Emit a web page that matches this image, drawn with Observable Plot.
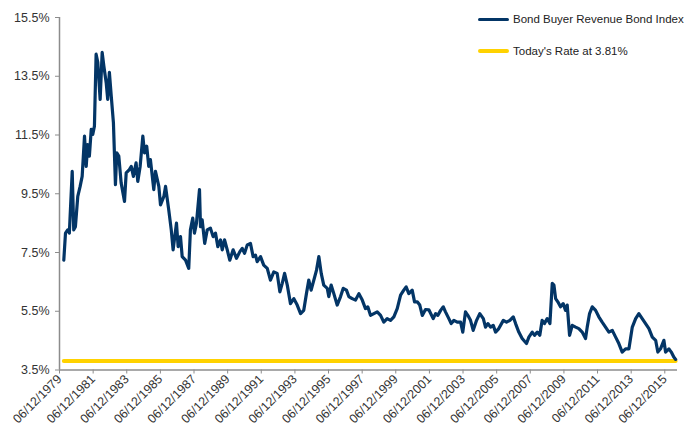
<!DOCTYPE html>
<html>
<head>
<meta charset="utf-8">
<script src="https://cdn.jsdelivr.net/npm/d3@7"></script>
<script src="https://cdn.jsdelivr.net/npm/@observablehq/plot@0.6"></script>
<style>
  html, body { margin: 0; padding: 0; background: #fff; }
  #wrap { position: relative; width: 687px; height: 427px; font-family: "Liberation Sans", Arial, sans-serif; }
  .legend { position: absolute; left: 478px; font-size: 11.5px; color: #222; display: flex; align-items: center; white-space: nowrap; }
  .legend .sw { width: 31px; margin-right: 4px; border-radius: 2px; }
</style>
</head>
<body>
<div id="wrap"></div>
<script>
// Decimal years
const years = [
  1979.70,1979.80,1979.93,1980.03,1980.20,1980.29,1980.39,1980.53,1980.67,1980.79,1980.93,
  1981.03,1981.12,1981.22,1981.33,1981.42,1981.52,1981.62,1981.72,1981.86,1981.98,
  1982.08,1982.22,1982.31,1982.41,1982.52,1982.65,1982.77,1982.85,1982.97,
  1983.11,1983.31,1983.41,1983.60,1983.71,1983.84,
  1984.00,1984.10,1984.24,1984.40,1984.50,1984.63,1984.75,1984.85,
  1985.05,1985.15,1985.35,1985.45,1985.65,1985.75,1985.94,
  1986.09,1986.20,1986.30,1986.40,1986.50,1986.64,1986.74,1986.94,
  1987.13,1987.23,1987.37,1987.47,1987.59,1987.77,1987.83,1987.93,
  1988.08,1988.23,1988.42,1988.58,1988.72,1988.86,
  1989.02,1989.12,1989.26,1989.42,1989.57,1989.77,1989.97,
  1990.17,1990.31,1990.45,1990.61,1990.80,1990.96,
  1991.10,1991.20,1991.40,1991.59,1991.80,1991.99,
  1992.19,1992.39,1992.55,1992.69,1992.83,1992.99,
  1993.18,1993.38,1993.58,1993.78,1993.97,
  1994.13,1994.27,1994.41,1994.57,1994.73,1994.87,
  1995.01,1995.16,1995.37,1995.46,1995.60,1995.76,1995.96,
  1996.16,1996.32,1996.51,1996.65,1996.85,
  1997.05,1997.25,1997.45,1997.64,1997.78,1997.94,
  1998.14,1998.34,1998.54,1998.73,1998.93,
  1999.13,1999.33,1999.53,1999.73,1999.92,
  2000.06,2000.22,2000.42,2000.56,2000.72,2000.87,
  2001.02,2001.21,2001.41,2001.67,2001.81,2001.95,
  2002.11,2002.27,2002.40,2002.60,2002.74,2002.90,
  2003.10,2003.30,2003.43,2003.59,2003.73,2003.89,
  2004.05,2004.25,2004.44,2004.65,2004.78,2004.92,
  2005.08,2005.24,2005.38,2005.57,2005.84,
  2006.03,2006.23,2006.43,2006.57,2006.76,2006.96,
  2007.22,2007.36,2007.56,2007.70,2007.86,
  2008.01,2008.15,2008.29,2008.45,2008.61,2008.75,2008.85,2008.95,
  2009.08,2009.24,2009.40,2009.54,2009.64,2009.78,2009.94,
  2010.14,2010.33,2010.53,2010.73,2010.83,2010.97,
  2011.13,2011.33,2011.52,2011.72,2011.92,
  2012.12,2012.32,2012.52,2012.71,2012.91,
  2013.11,2013.31,2013.51,2013.71,2013.90,
  2014.10,2014.30,2014.50,2014.70,2014.90,
  2015.03,2015.19,2015.39,2015.49,2015.69,2015.83,2015.98,2016.09
];
// Bond Buyer Revenue Bond Index (%)
const rates = [
  7.24,8.16,8.27,8.16,10.26,8.27,8.38,9.41,9.75,10.09,11.46,
  10.43,11.17,10.78,11.69,11.52,11.80,14.25,13.97,12.71,14.31,
  13.85,13.28,12.71,13.63,12.83,11.92,9.81,10.89,10.78,
  9.87,9.24,10.21,10.32,10.43,10.09,
  10.55,9.92,10.43,11.46,10.89,11.12,10.43,10.66,
  9.64,10.26,9.75,9.12,9.41,9.75,8.95,
  8.27,7.59,8.04,8.50,7.70,8.04,7.36,7.24,
  6.96,8.27,8.67,8.16,8.50,9.64,8.38,8.61,
  7.81,8.27,8.33,8.04,8.16,7.70,
  7.93,7.59,7.93,7.59,7.24,7.59,7.30,
  7.53,7.64,7.47,7.76,7.81,7.36,
  7.41,7.19,7.36,7.07,6.96,6.56,
  6.84,6.79,6.16,6.45,6.79,6.39,
  5.76,5.93,5.71,5.42,5.53,
  6.10,6.56,6.22,6.56,6.90,7.36,
  6.79,6.39,6.28,6.00,6.39,6.10,5.71,
  6.00,6.28,6.22,6.00,5.93,
  5.88,6.10,5.88,5.59,5.65,5.36,
  5.42,5.48,5.36,5.13,5.25,
  5.19,5.31,5.59,6.05,6.22,
  6.33,6.10,6.22,5.82,5.82,5.71,
  5.36,5.56,5.55,5.25,5.42,5.36,
  5.53,5.65,5.48,5.25,5.08,5.19,
  5.13,5.13,4.79,5.48,5.36,5.19,
  4.85,5.19,5.42,5.25,4.96,5.08,
  4.96,5.02,4.79,4.91,5.19,
  5.13,5.19,5.31,5.08,4.79,4.57,
  4.40,4.62,4.79,4.68,4.79,
  4.68,5.19,5.08,5.25,5.08,6.45,6.39,5.93,
  5.82,5.65,5.76,5.53,5.71,4.68,5.02,
  4.96,4.91,4.79,4.57,4.96,5.42,
  5.65,5.53,5.31,5.13,4.96,
  4.79,4.85,4.62,4.40,4.11,
  4.22,4.22,4.96,5.25,5.42,
  5.25,5.08,4.91,4.62,4.51,
  4.11,4.22,4.51,4.11,4.22,4.11,3.94,3.86
];
const todayRate = 3.81;
const seriesNames = ["Bond Buyer Revenue Bond Index", "Today's Rate at 3.81%"];
const yTicks = [3.5, 5.5, 7.5, 9.5, 11.5, 13.5, 15.5];
const xTickYears = [1979,1981,1983,1985,1987,1989,1991,1993,1995,1997,1999,2001,2003,2005,2007,2009,2011,2013,2015];
const axisEndYear = 2016.20;

function yearToDate(y) {
  const yr = Math.floor(y);
  const a = Date.UTC(yr, 0, 1), b = Date.UTC(yr + 1, 0, 1);
  return new Date(a + (y - yr) * (b - a));
}
const data = years.map((y, i) => ({date: yearToDate(y), value: rates[i]}));
const todayLine = [
  {date: data[0].date, value: todayRate},
  {date: data[data.length - 1].date, value: todayRate}
];
const xTicks = xTickYears.map(y => new Date(Date.UTC(y, 5, 12)));
const x0 = new Date(Date.UTC(1979, 5, 12));
const x1 = yearToDate(axisEndYear);

const navy = "#033566", gold = "#FFD200", axisGray = "#8c8c8c", textCol = "#333";

const chart = Plot.plot({
  width: 687,
  height: 427,
  marginLeft: 59,
  marginRight: 10,
  marginTop: 17,
  marginBottom: 57.5,
  style: {fontFamily: "'Liberation Sans', Arial, sans-serif", fontSize: "12.5px", color: textCol, background: "#fff"},
  x: {type: "utc", domain: [x0, x1]},
  y: {domain: [3.5, 15.5]},
  marks: [
    Plot.axisY({ticks: yTicks, tickFormat: d => d.toFixed(1) + "%", tickSize: 4, tickPadding: 6, stroke: axisGray, fill: textCol, label: null}),
    Plot.axisX({ticks: xTicks, tickFormat: d3.utcFormat("%m/%d/%Y"), tickRotate: -45, tickSize: 4, tickPadding: 3, stroke: axisGray, fill: textCol, label: null}),
    Plot.ruleX([x0], {stroke: axisGray, strokeWidth: 1.5}),
    Plot.ruleY([3.5], {stroke: axisGray, strokeWidth: 1.5}),
    Plot.line(todayLine, {x: "date", y: "value", stroke: gold, strokeWidth: 4, strokeLinecap: "round"}),
    Plot.line(data, {x: "date", y: "value", stroke: navy, strokeWidth: 3.2, strokeLinejoin: "round"})
  ]
});
const wrap = document.getElementById("wrap");
wrap.appendChild(chart);

const legendItems = [
  {name: seriesNames[0], color: navy, top: 19, h: 3},
  {name: seriesNames[1], color: gold, top: 51, h: 4}
];
legendItems.forEach(it => {
  const d = document.createElement("div");
  d.className = "legend";
  d.style.top = (it.top - 8) + "px";
  d.style.height = "16px";
  const sw = document.createElement("span");
  sw.className = "sw";
  sw.style.height = it.h + "px";
  sw.style.background = it.color;
  const t = document.createElement("span");
  t.textContent = it.name;
  d.appendChild(sw); d.appendChild(t);
  wrap.appendChild(d);
});
</script>
</body>
</html>
